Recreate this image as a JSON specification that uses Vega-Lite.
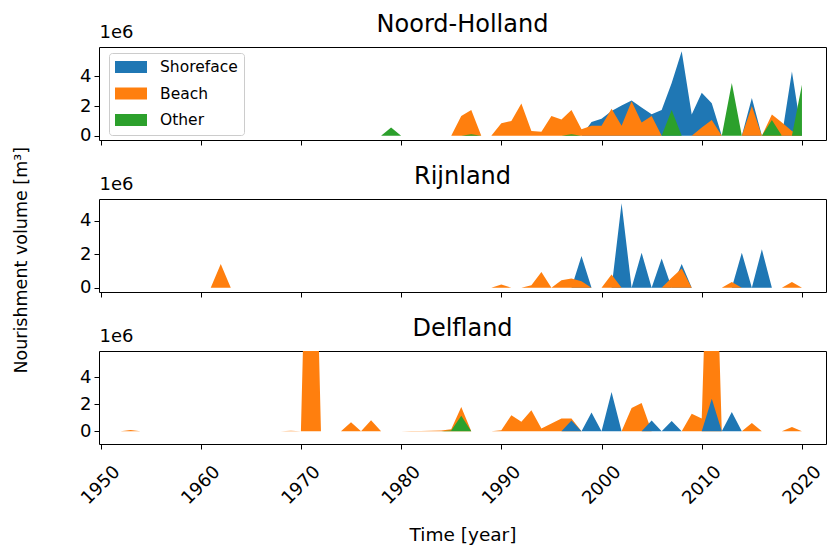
{
  "$schema": "https://vega.github.io/schema/vega-lite/v6.json",
  "background": "white",
  "padding": {"left": 12, "top": 12, "right": 0, "bottom": 0},
  "title": {"text": "Nourishment volume [m³]", "orient": "left", "anchor": "middle", "fontSize": 17.5, "offset": 47, "dx": 18},
  "config": {
    "font": "DejaVu Sans",
    "view": {"stroke": "black", "strokeWidth": 1},
    "axis": {"domain": false, "grid": false, "tickColor": "black", "tickSize": 5, "tickWidth": 1, "labelColor": "black", "labelFont": "DejaVu Sans", "labelFontSize": 18, "titleFont": "DejaVu Sans", "titleColor": "black", "titleFontWeight": "normal", "titleFontSize": 18},
    "title": {"font": "DejaVu Sans", "fontWeight": "normal", "color": "black"}
  },
  "datasets": {
    "d": [
      {"r":"Noord-Holland","t":"Shoreface","y":1998,"v":0},
      {"r":"Noord-Holland","t":"Shoreface","y":1999,"v":930000},
      {"r":"Noord-Holland","t":"Shoreface","y":2000,"v":1150000},
      {"r":"Noord-Holland","t":"Shoreface","y":2001,"v":1670000},
      {"r":"Noord-Holland","t":"Shoreface","y":2002,"v":2040000},
      {"r":"Noord-Holland","t":"Shoreface","y":2003,"v":2380000},
      {"r":"Noord-Holland","t":"Shoreface","y":2004,"v":1900000},
      {"r":"Noord-Holland","t":"Shoreface","y":2005,"v":1450000},
      {"r":"Noord-Holland","t":"Shoreface","y":2006,"v":1730000},
      {"r":"Noord-Holland","t":"Shoreface","y":2007,"v":3550000},
      {"r":"Noord-Holland","t":"Shoreface","y":2008,"v":5700000},
      {"r":"Noord-Holland","t":"Shoreface","y":2009,"v":1440000},
      {"r":"Noord-Holland","t":"Shoreface","y":2010,"v":2900000},
      {"r":"Noord-Holland","t":"Shoreface","y":2011,"v":2200000},
      {"r":"Noord-Holland","t":"Shoreface","y":2012,"v":0},
      {"r":"Noord-Holland","t":"Shoreface","y":2014,"v":0},
      {"r":"Noord-Holland","t":"Shoreface","y":2015,"v":2550000},
      {"r":"Noord-Holland","t":"Shoreface","y":2016,"v":0},
      {"r":"Noord-Holland","t":"Shoreface","y":2018,"v":0},
      {"r":"Noord-Holland","t":"Shoreface","y":2019,"v":4330000},
      {"r":"Noord-Holland","t":"Shoreface","y":2020,"v":0},
      {"r":"Noord-Holland","t":"Beach","y":1985,"v":0},
      {"r":"Noord-Holland","t":"Beach","y":1986,"v":1330000},
      {"r":"Noord-Holland","t":"Beach","y":1987,"v":1730000},
      {"r":"Noord-Holland","t":"Beach","y":1988,"v":0},
      {"r":"Noord-Holland","t":"Beach","y":1989,"v":0},
      {"r":"Noord-Holland","t":"Beach","y":1990,"v":840000},
      {"r":"Noord-Holland","t":"Beach","y":1991,"v":1000000},
      {"r":"Noord-Holland","t":"Beach","y":1992,"v":2180000},
      {"r":"Noord-Holland","t":"Beach","y":1993,"v":330000},
      {"r":"Noord-Holland","t":"Beach","y":1994,"v":270000},
      {"r":"Noord-Holland","t":"Beach","y":1995,"v":1330000},
      {"r":"Noord-Holland","t":"Beach","y":1996,"v":1100000},
      {"r":"Noord-Holland","t":"Beach","y":1997,"v":1730000},
      {"r":"Noord-Holland","t":"Beach","y":1998,"v":440000},
      {"r":"Noord-Holland","t":"Beach","y":1999,"v":670000},
      {"r":"Noord-Holland","t":"Beach","y":2000,"v":670000},
      {"r":"Noord-Holland","t":"Beach","y":2001,"v":1820000},
      {"r":"Noord-Holland","t":"Beach","y":2002,"v":670000},
      {"r":"Noord-Holland","t":"Beach","y":2003,"v":2330000},
      {"r":"Noord-Holland","t":"Beach","y":2004,"v":900000},
      {"r":"Noord-Holland","t":"Beach","y":2005,"v":1330000},
      {"r":"Noord-Holland","t":"Beach","y":2006,"v":0},
      {"r":"Noord-Holland","t":"Beach","y":2009,"v":0},
      {"r":"Noord-Holland","t":"Beach","y":2010,"v":550000},
      {"r":"Noord-Holland","t":"Beach","y":2011,"v":1070000},
      {"r":"Noord-Holland","t":"Beach","y":2012,"v":0},
      {"r":"Noord-Holland","t":"Beach","y":2014,"v":0},
      {"r":"Noord-Holland","t":"Beach","y":2015,"v":2000000},
      {"r":"Noord-Holland","t":"Beach","y":2016,"v":0},
      {"r":"Noord-Holland","t":"Beach","y":2017,"v":1440000},
      {"r":"Noord-Holland","t":"Beach","y":2018,"v":900000},
      {"r":"Noord-Holland","t":"Beach","y":2019,"v":330000},
      {"r":"Noord-Holland","t":"Beach","y":2020,"v":0},
      {"r":"Noord-Holland","t":"Other","y":1978,"v":0},
      {"r":"Noord-Holland","t":"Other","y":1979,"v":550000},
      {"r":"Noord-Holland","t":"Other","y":1980,"v":0},
      {"r":"Noord-Holland","t":"Other","y":1986,"v":0},
      {"r":"Noord-Holland","t":"Other","y":1987,"v":100000},
      {"r":"Noord-Holland","t":"Other","y":1988,"v":0},
      {"r":"Noord-Holland","t":"Other","y":1996,"v":0},
      {"r":"Noord-Holland","t":"Other","y":1997,"v":100000},
      {"r":"Noord-Holland","t":"Other","y":1998,"v":0},
      {"r":"Noord-Holland","t":"Other","y":2006,"v":0},
      {"r":"Noord-Holland","t":"Other","y":2007,"v":1730000},
      {"r":"Noord-Holland","t":"Other","y":2008,"v":0},
      {"r":"Noord-Holland","t":"Other","y":2012,"v":0},
      {"r":"Noord-Holland","t":"Other","y":2013,"v":3550000},
      {"r":"Noord-Holland","t":"Other","y":2014,"v":0},
      {"r":"Noord-Holland","t":"Other","y":2016,"v":0},
      {"r":"Noord-Holland","t":"Other","y":2017,"v":1070000},
      {"r":"Noord-Holland","t":"Other","y":2018,"v":0},
      {"r":"Noord-Holland","t":"Other","y":2019,"v":0},
      {"r":"Noord-Holland","t":"Other","y":2020,"v":3440000},
      {"r":"Rijnland","t":"Shoreface","y":1997,"v":0},
      {"r":"Rijnland","t":"Shoreface","y":1998,"v":1900000},
      {"r":"Rijnland","t":"Shoreface","y":1999,"v":0},
      {"r":"Rijnland","t":"Shoreface","y":2001,"v":0},
      {"r":"Rijnland","t":"Shoreface","y":2002,"v":5050000},
      {"r":"Rijnland","t":"Shoreface","y":2003,"v":0},
      {"r":"Rijnland","t":"Shoreface","y":2004,"v":2100000},
      {"r":"Rijnland","t":"Shoreface","y":2005,"v":0},
      {"r":"Rijnland","t":"Shoreface","y":2006,"v":1750000},
      {"r":"Rijnland","t":"Shoreface","y":2007,"v":0},
      {"r":"Rijnland","t":"Shoreface","y":2008,"v":1430000},
      {"r":"Rijnland","t":"Shoreface","y":2009,"v":0},
      {"r":"Rijnland","t":"Shoreface","y":2013,"v":0},
      {"r":"Rijnland","t":"Shoreface","y":2014,"v":2100000},
      {"r":"Rijnland","t":"Shoreface","y":2015,"v":0},
      {"r":"Rijnland","t":"Shoreface","y":2016,"v":2300000},
      {"r":"Rijnland","t":"Shoreface","y":2017,"v":0},
      {"r":"Rijnland","t":"Beach","y":1961,"v":0},
      {"r":"Rijnland","t":"Beach","y":1962,"v":1430000},
      {"r":"Rijnland","t":"Beach","y":1963,"v":0},
      {"r":"Rijnland","t":"Beach","y":1989,"v":0},
      {"r":"Rijnland","t":"Beach","y":1990,"v":200000},
      {"r":"Rijnland","t":"Beach","y":1991,"v":0},
      {"r":"Rijnland","t":"Beach","y":1992,"v":0},
      {"r":"Rijnland","t":"Beach","y":1993,"v":150000},
      {"r":"Rijnland","t":"Beach","y":1994,"v":950000},
      {"r":"Rijnland","t":"Beach","y":1995,"v":0},
      {"r":"Rijnland","t":"Beach","y":1996,"v":450000},
      {"r":"Rijnland","t":"Beach","y":1997,"v":550000},
      {"r":"Rijnland","t":"Beach","y":1998,"v":400000},
      {"r":"Rijnland","t":"Beach","y":1999,"v":0},
      {"r":"Rijnland","t":"Beach","y":2000,"v":0},
      {"r":"Rijnland","t":"Beach","y":2001,"v":800000},
      {"r":"Rijnland","t":"Beach","y":2002,"v":0},
      {"r":"Rijnland","t":"Beach","y":2006,"v":0},
      {"r":"Rijnland","t":"Beach","y":2007,"v":600000},
      {"r":"Rijnland","t":"Beach","y":2008,"v":1150000},
      {"r":"Rijnland","t":"Beach","y":2009,"v":0},
      {"r":"Rijnland","t":"Beach","y":2012,"v":0},
      {"r":"Rijnland","t":"Beach","y":2013,"v":350000},
      {"r":"Rijnland","t":"Beach","y":2014,"v":0},
      {"r":"Rijnland","t":"Beach","y":2018,"v":0},
      {"r":"Rijnland","t":"Beach","y":2019,"v":350000},
      {"r":"Rijnland","t":"Beach","y":2020,"v":0},
      {"r":"Delfland","t":"Beach","y":1952,"v":0},
      {"r":"Delfland","t":"Beach","y":1953,"v":80000},
      {"r":"Delfland","t":"Beach","y":1954,"v":0},
      {"r":"Delfland","t":"Beach","y":1968,"v":0},
      {"r":"Delfland","t":"Beach","y":1969,"v":30000},
      {"r":"Delfland","t":"Beach","y":1970,"v":0},
      {"r":"Delfland","t":"Beach","y":1971,"v":30000000},
      {"r":"Delfland","t":"Beach","y":1972,"v":0},
      {"r":"Delfland","t":"Beach","y":1974,"v":0},
      {"r":"Delfland","t":"Beach","y":1975,"v":670000},
      {"r":"Delfland","t":"Beach","y":1976,"v":0},
      {"r":"Delfland","t":"Beach","y":1977,"v":810000},
      {"r":"Delfland","t":"Beach","y":1978,"v":0},
      {"r":"Delfland","t":"Beach","y":1980,"v":0},
      {"r":"Delfland","t":"Beach","y":1981,"v":20000},
      {"r":"Delfland","t":"Beach","y":1982,"v":20000},
      {"r":"Delfland","t":"Beach","y":1983,"v":30000},
      {"r":"Delfland","t":"Beach","y":1984,"v":50000},
      {"r":"Delfland","t":"Beach","y":1985,"v":150000},
      {"r":"Delfland","t":"Beach","y":1986,"v":1800000},
      {"r":"Delfland","t":"Beach","y":1987,"v":0},
      {"r":"Delfland","t":"Beach","y":1989,"v":0},
      {"r":"Delfland","t":"Beach","y":1990,"v":70000},
      {"r":"Delfland","t":"Beach","y":1991,"v":1180000},
      {"r":"Delfland","t":"Beach","y":1992,"v":700000},
      {"r":"Delfland","t":"Beach","y":1993,"v":1550000},
      {"r":"Delfland","t":"Beach","y":1994,"v":200000},
      {"r":"Delfland","t":"Beach","y":1995,"v":570000},
      {"r":"Delfland","t":"Beach","y":1996,"v":940000},
      {"r":"Delfland","t":"Beach","y":1997,"v":940000},
      {"r":"Delfland","t":"Beach","y":1998,"v":0},
      {"r":"Delfland","t":"Beach","y":2002,"v":0},
      {"r":"Delfland","t":"Beach","y":2003,"v":1730000},
      {"r":"Delfland","t":"Beach","y":2004,"v":2100000},
      {"r":"Delfland","t":"Beach","y":2005,"v":0},
      {"r":"Delfland","t":"Beach","y":2008,"v":0},
      {"r":"Delfland","t":"Beach","y":2009,"v":1300000},
      {"r":"Delfland","t":"Beach","y":2010,"v":950000},
      {"r":"Delfland","t":"Beach","y":2011,"v":25000000},
      {"r":"Delfland","t":"Beach","y":2012,"v":0},
      {"r":"Delfland","t":"Beach","y":2014,"v":0},
      {"r":"Delfland","t":"Beach","y":2015,"v":600000},
      {"r":"Delfland","t":"Beach","y":2016,"v":0},
      {"r":"Delfland","t":"Beach","y":2018,"v":0},
      {"r":"Delfland","t":"Beach","y":2019,"v":320000},
      {"r":"Delfland","t":"Beach","y":2020,"v":0},
      {"r":"Delfland","t":"Shoreface","y":1996,"v":0},
      {"r":"Delfland","t":"Shoreface","y":1997,"v":800000},
      {"r":"Delfland","t":"Shoreface","y":1998,"v":0},
      {"r":"Delfland","t":"Shoreface","y":1999,"v":1380000},
      {"r":"Delfland","t":"Shoreface","y":2000,"v":0},
      {"r":"Delfland","t":"Shoreface","y":2001,"v":2900000},
      {"r":"Delfland","t":"Shoreface","y":2002,"v":0},
      {"r":"Delfland","t":"Shoreface","y":2004,"v":0},
      {"r":"Delfland","t":"Shoreface","y":2005,"v":800000},
      {"r":"Delfland","t":"Shoreface","y":2006,"v":0},
      {"r":"Delfland","t":"Shoreface","y":2007,"v":750000},
      {"r":"Delfland","t":"Shoreface","y":2008,"v":0},
      {"r":"Delfland","t":"Shoreface","y":2010,"v":0},
      {"r":"Delfland","t":"Shoreface","y":2011,"v":2400000},
      {"r":"Delfland","t":"Shoreface","y":2012,"v":0},
      {"r":"Delfland","t":"Shoreface","y":2013,"v":1430000},
      {"r":"Delfland","t":"Shoreface","y":2014,"v":0},
      {"r":"Delfland","t":"Other","y":1984,"v":0},
      {"r":"Delfland","t":"Other","y":1985,"v":50000},
      {"r":"Delfland","t":"Other","y":1986,"v":1150000},
      {"r":"Delfland","t":"Other","y":1987,"v":0}
    ]
  },
  "data": {"name": "d"},
  "bounds": "flush",
  "spacing": 59,
  "resolve": {"scale": {"y": "independent", "color": "independent", "x": "independent"}, "legend": {"color": "independent"}},
  "vconcat": [
    {
      "width": 727, "height": 93,
      "title": {"text": "Noord-Holland", "fontSize": 24, "offset": -13.5, "anchor": "middle", "frame": "group"},
      "transform": [{"filter": "datum.r === 'Noord-Holland'"}],
      "encoding": {
        "x": {"field": "y", "type": "quantitative", "scale": {"domain": [1949.85, 2022.4], "nice": false, "zero": false}, "axis": {"values": [1950,1960,1970,1980,1990,2000,2010,2020], "labels": false, "title": null}},
        "y": {"field": "v", "type": "quantitative", "stack": null, "scale": {"domain": [-285000, 5985000], "nice": false, "zero": false}, "axis": {"values": [0, 2000000, 4000000], "labelExpr": "datum.value / 1000000", "labelPadding": 3, "title": "1e6", "titleAngle": 0, "titleAlign": "left", "titleBaseline": "alphabetic", "titleX": 0, "titleY": -10}},
        "y2": {"datum": 0},
        "color": {"field": "t", "type": "nominal", "scale": {"domain": ["Shoreface", "Beach", "Other"], "range": ["#1f77b4", "#ff7f0e", "#2ca02c"]},
          "legend": {"title": null, "orient": "none", "legendX": 10, "legendY": 6, "symbolType": "M-1,-0.75H3V0.75H-1Z", "symbolSize": 256, "symbolStrokeWidth": 0, "symbolOpacity": 1, "labelFontSize": 15.5, "labelFont": "DejaVu Sans", "labelColor": "black", "labelOffset": 29, "fillColor": "white", "strokeColor": "#cccccc", "cornerRadius": 3, "padding": 6, "rowPadding": 9.5}}
      },
      "layer": [
        {"transform": [{"filter": "datum.t === 'Shoreface'"}], "mark": {"type": "area", "clip": true}},
        {"transform": [{"filter": "datum.t === 'Beach'"}], "mark": {"type": "area", "clip": true}},
        {"transform": [{"filter": "datum.t === 'Other'"}], "mark": {"type": "area", "clip": true}}
      ]
    },
    {
      "width": 727, "height": 93,
      "title": {"text": "Rijnland", "fontSize": 24, "offset": -13.5, "anchor": "middle", "frame": "group"},
      "transform": [{"filter": "datum.r === 'Rijnland'"}],
      "encoding": {
        "x": {"field": "y", "type": "quantitative", "scale": {"domain": [1949.85, 2022.4], "nice": false, "zero": false}, "axis": {"values": [1950,1960,1970,1980,1990,2000,2010,2020], "labels": false, "title": null}},
        "y": {"field": "v", "type": "quantitative", "stack": null, "scale": {"domain": [-250000, 5310000], "nice": false, "zero": false}, "axis": {"values": [0, 2000000, 4000000], "labelExpr": "datum.value / 1000000", "labelPadding": 3, "title": "1e6", "titleAngle": 0, "titleAlign": "left", "titleBaseline": "alphabetic", "titleX": 0, "titleY": -10}},
        "y2": {"datum": 0},
        "color": {"field": "t", "type": "nominal", "scale": {"domain": ["Shoreface", "Beach", "Other"], "range": ["#1f77b4", "#ff7f0e", "#2ca02c"]}, "legend": null}
      },
      "layer": [
        {"transform": [{"filter": "datum.t === 'Shoreface'"}], "mark": {"type": "area", "clip": true}},
        {"transform": [{"filter": "datum.t === 'Beach'"}], "mark": {"type": "area", "clip": true}},
        {"transform": [{"filter": "datum.t === 'Other'"}], "mark": {"type": "area", "clip": true}}
      ]
    },
    {
      "width": 727, "height": 93,
      "title": {"text": "Delfland", "fontSize": 24, "offset": -13.5, "anchor": "middle", "frame": "group"},
      "transform": [{"filter": "datum.r === 'Delfland'"}],
      "encoding": {
        "x": {"field": "y", "type": "quantitative", "scale": {"domain": [1949.85, 2022.4], "nice": false, "zero": false}, "axis": {"values": [1950,1960,1970,1980,1990,2000,2010,2020], "format": "d", "labelAngle": -45, "labelAlign": "center", "labelBaseline": "middle", "labelPadding": 36, "labelOverlap": false, "labelFlush": false, "title": "Time [year]", "titleFontSize": 18.5, "titlePadding": 18}},
        "y": {"field": "v", "type": "quantitative", "stack": null, "scale": {"domain": [-950000, 5950000], "nice": false, "zero": false}, "axis": {"values": [0, 2000000, 4000000], "labelExpr": "datum.value / 1000000", "labelPadding": 3, "title": "1e6", "titleAngle": 0, "titleAlign": "left", "titleBaseline": "alphabetic", "titleX": 0, "titleY": -10}},
        "y2": {"datum": 0},
        "color": {"field": "t", "type": "nominal", "scale": {"domain": ["Shoreface", "Beach", "Other"], "range": ["#1f77b4", "#ff7f0e", "#2ca02c"]}, "legend": null}
      },
      "layer": [
        {"transform": [{"filter": "datum.t === 'Beach'"}], "mark": {"type": "area", "clip": true}},
        {"transform": [{"filter": "datum.t === 'Shoreface'"}], "mark": {"type": "area", "clip": true}},
        {"transform": [{"filter": "datum.t === 'Other'"}], "mark": {"type": "area", "clip": true}}
      ]
    }
  ]
}
